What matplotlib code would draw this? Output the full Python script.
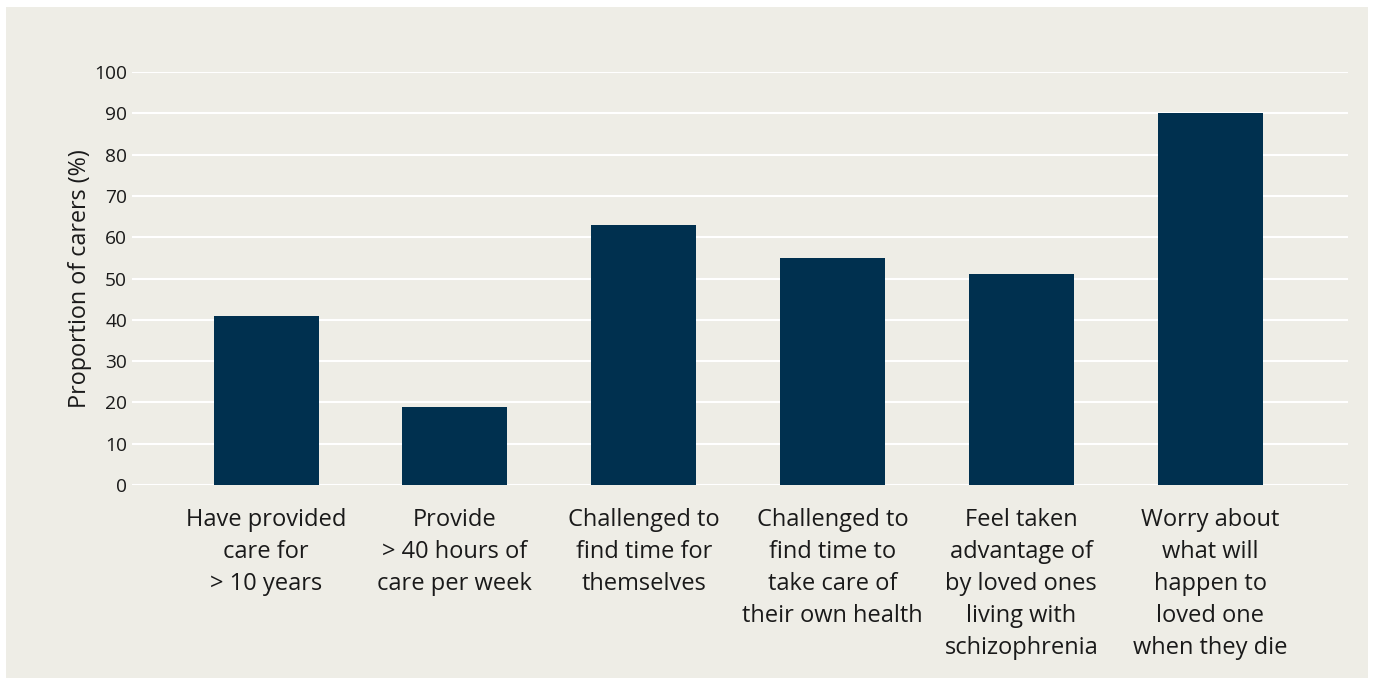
import matplotlib.pyplot as plt
import matplotlib.patches as mpatches
import numpy as np

plt.rcParams['font.family'] = ['Open Sans', 'DejaVu Sans']

categories = ['Have provided\ncare for\n> 10 years',
              'Provide\n> 40 hours of\ncare per week',
              'Challenged to\nfind time for\nthemselves',
              'Challenged to\nfind time to\ntake care of\ntheir own health',
              'Feel taken\nadvantage of\nby loved ones\nliving with\nschizophrenia',
              'Worry about\nwhat will\nhappen to\nloved one\nwhen they die']
values = [41, 19, 63, 55, 51, 90]
yticks = [0, 10, 20, 30, 40, 50, 60, 70, 80, 90, 100]

bg = '#EEEDE6'
bar_color = '#00304F'

fig = plt.figure(figsize=(13.73, 6.84), dpi=100)
fig.patch.set_facecolor('white')
# beige panel behind the chart
panel = mpatches.Rectangle((6 / 1373, 6 / 684), 1362 / 1373, 671 / 684,
                           transform=fig.transFigure, facecolor=bg,
                           edgecolor='none', zorder=-10)
fig.patches.append(panel)

ax = fig.add_axes([132 / 1373, 1 - 485 / 684, 1216 / 1373, 413 / 684])
ax.set_facecolor('none')

x = np.arange(len(categories))
ax.bar(x, values, width=0.556, color=bar_color, zorder=3)

ax.set_xlim(-0.71, 5.73)
ax.set_ylim(0, 100)
ax.set_yticks(yticks)
ax.set_yticklabels([str(v) for v in yticks], fontsize=13.8, color='#1a1a1a')
ax.set_xticks(x)
ax.set_xticklabels(categories, fontsize=17, color='#1a1a1a', linespacing=1.445,
                   va='top')
ax.tick_params(axis='both', length=0)
ax.tick_params(axis='y', pad=3.6)
ax.tick_params(axis='x', pad=16.5)
ax.yaxis.grid(True, color='white', linewidth=1.5, zorder=1)
ax.set_axisbelow(True)
for s in ax.spines.values():
    s.set_visible(False)

ax.set_ylabel('Proportion of carers (%)', fontsize=16.8, color='#1a1a1a', labelpad=1.5)

fig.savefig('out.png', dpi=100)
